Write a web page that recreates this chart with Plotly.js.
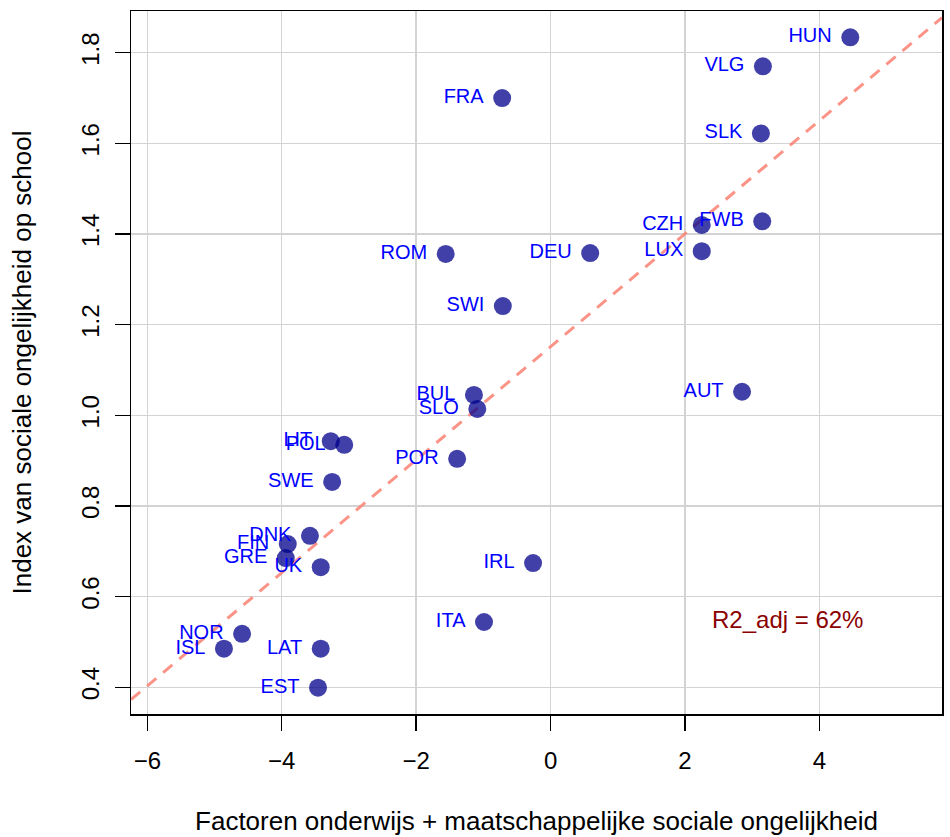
<!DOCTYPE html>
<html>
<head>
<meta charset="utf-8">
<script src="https://cdn.plot.ly/plotly-3.0.1.min.js"></script>
<style>
  html, body { margin: 0; padding: 0; background: #ffffff; }
  #chart { width: 950px; height: 837px; }
</style>
</head>
<body>
<div id="chart"></div>
<script>
// Country codes, predictor score and school social-inequality index
const countries = ["HUN", "VLG", "FRA", "SLK", "FWB", "CZH", "LUX", "ROM", "DEU", "SWI",
                   "BUL", "SLO", "AUT", "LIT", "POL", "POR", "SWE", "DNK", "FIN", "GRE",
                   "UK", "IRL", "ITA", "NOR", "ISL", "LAT", "EST"];
const factorScore = [4.46, 3.16, -0.72, 3.13, 3.15, 2.25, 2.25, -1.56, 0.59, -0.71,
                     -1.14, -1.09, 2.85, -3.27, -3.07, -1.39, -3.25, -3.58, -3.91, -3.94,
                     -3.42, -0.26, -0.99, -4.59, -4.86, -3.42, -3.46];
const inequalityIndex = [1.834, 1.770, 1.700, 1.622, 1.428, 1.420, 1.362, 1.356, 1.358, 1.241,
                         1.045, 1.014, 1.052, 0.943, 0.935, 0.904, 0.853, 0.734, 0.716, 0.685,
                         0.665, 0.674, 0.544, 0.518, 0.485, 0.485, 0.399];
const fitLabel = "R2_adj = 62%";
const fitLabelPos = [3.52, 0.549];

const xRange = [-6.243, 5.825];
const yRange = [0.341, 1.892];

// Least-squares fit of the index on the predictor score
function leastSquares(xs, ys) {
  const n = xs.length;
  const mx = xs.reduce((a, b) => a + b, 0) / n;
  const my = ys.reduce((a, b) => a + b, 0) / n;
  let sxy = 0, sxx = 0;
  for (let i = 0; i < n; i++) {
    sxy += (xs[i] - mx) * (ys[i] - my);
    sxx += (xs[i] - mx) * (xs[i] - mx);
  }
  const slope = sxy / sxx;
  return { slope: slope, intercept: my - slope * mx };
}
const fit = leastSquares(factorScore, inequalityIndex);

const fontFamily = "Liberation Sans, Arial, Helvetica, sans-serif";

const fitLine = {
  type: "scatter",
  mode: "lines",
  x: xRange,
  y: xRange.map(v => fit.intercept + fit.slope * v),
  line: { color: "rgba(250,128,114,0.85)", width: 3, dash: "12px,9px" },
  hoverinfo: "skip",
  showlegend: false
};

const points = {
  type: "scatter",
  mode: "markers",
  x: factorScore,
  y: inequalityIndex,
  marker: { size: 18, color: "rgba(0,0,139,0.75)", line: { width: 0 } },
  showlegend: false
};

// Country labels sit left of each point; the transparent, wider marker sets the gap
const labels = {
  type: "scatter",
  mode: "markers+text",
  x: factorScore,
  y: inequalityIndex,
  text: countries,
  textposition: "middle left",
  textfont: { family: fontFamily, size: 20, color: "#0000ff" },
  marker: { size: 28, color: "rgba(0,0,0,0)", line: { width: 0 } },
  hoverinfo: "skip",
  showlegend: false
};

const axisCommon = {
  showline: true,
  mirror: true,
  linecolor: "#000000",
  linewidth: 1.5,
  showgrid: true,
  gridcolor: "#d3d3d3",
  gridwidth: 1.5,
  zeroline: false,
  ticks: "outside",
  ticklen: 15,
  tickwidth: 1.5,
  tickcolor: "#000000",
  tickfont: { family: fontFamily, size: 24, color: "#000000" },
  automargin: false
};

const layout = {
  width: 950,
  height: 837,
  margin: { l: 131, r: 8, t: 11, b: 123 },
  paper_bgcolor: "#ffffff",
  plot_bgcolor: "#ffffff",
  font: { family: fontFamily, color: "#000000" },
  xaxis: Object.assign({}, axisCommon, {
    range: xRange,
    tick0: 0,
    dtick: 2,
    ticklabelstandoff: 10,
    title: {
      text: "Factoren onderwijs + maatschappelijke sociale ongelijkheid",
      font: { family: fontFamily, size: 26, color: "#000000" },
      standoff: 38
    }
  }),
  yaxis: Object.assign({}, axisCommon, {
    range: yRange,
    tick0: 0.4,
    dtick: 0.2,
    tickformat: ".1f",
    tickangle: -90,
    ticklabelstandoff: 6,
    title: {
      text: "Index van sociale ongelijkheid op school",
      font: { family: fontFamily, size: 26, color: "#000000" },
      standoff: 38
    }
  }),
  annotations: [{
    x: fitLabelPos[0],
    y: fitLabelPos[1],
    xref: "x",
    yref: "y",
    text: fitLabel,
    showarrow: false,
    xanchor: "center",
    yanchor: "middle",
    font: { family: fontFamily, size: 24, color: "#8b0000" }
  }]
};

Plotly.newPlot("chart", [fitLine, points, labels], layout, { displayModeBar: false, staticPlot: true });
</script>
</body>
</html>
